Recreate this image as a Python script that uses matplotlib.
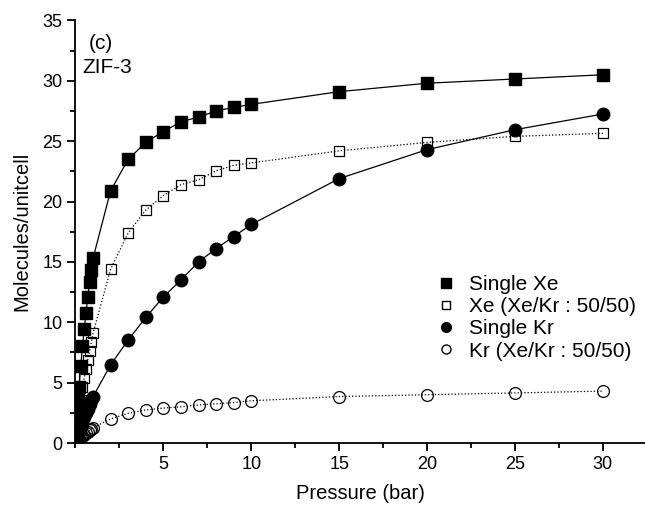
import matplotlib.pyplot as plt
from matplotlib.ticker import MultipleLocator
from matplotlib.lines import Line2D

plt.rcParams['font.family'] = ['Liberation Sans', 'DejaVu Sans']

# pressure points (bar) shared by all four isotherms
pressure = [0.05, 0.1, 0.15, 0.2, 0.3, 0.4, 0.5, 0.6, 0.7, 0.8, 0.9, 1.0,
            2, 3, 4, 5, 6, 7, 8, 9, 10, 15, 20, 25, 30]

single_xe = [1.3, 2.5, 3.6, 4.6, 6.4, 8.0, 9.45, 10.8, 12.1, 13.3, 14.3, 15.3,
             20.9, 23.5, 24.9, 25.8, 26.6, 27.0, 27.5, 27.8, 28.05, 29.1, 29.8, 30.15, 30.5]
mix_xe = [0.9, 1.6, 2.2, 2.8, 3.6, 4.6, 5.4, 6.1, 6.9, 7.6, 8.35, 9.1,
          14.4, 17.4, 19.3, 20.5, 21.4, 21.8, 22.55, 23.0, 23.2, 24.2, 24.9, 25.4, 25.65]
single_kr = [0.25, 0.5, 0.72, 0.95, 1.35, 1.75, 2.15, 2.5, 2.85, 3.2, 3.55, 3.85,
             6.47, 8.54, 10.4, 12.1, 13.5, 15.0, 16.1, 17.1, 18.1, 21.9, 24.3, 25.95, 27.25]
mix_kr = [0.08, 0.15, 0.23, 0.3, 0.45, 0.57, 0.7, 0.8, 0.95, 1.05, 1.15, 1.27,
          2.0, 2.46, 2.74, 2.9, 3.0, 3.15, 3.25, 3.35, 3.5, 3.85, 4.0, 4.15, 4.3]

labels = ['Single Xe', 'Xe (Xe/Kr : 50/50)', 'Single Kr', 'Kr (Xe/Kr : 50/50)']

fig = plt.figure(figsize=(6.45, 5.11), dpi=100)
ax = fig.add_axes([0.117, 0.133, 0.883, 0.827])

ax.plot(pressure, single_xe, '-', color='black', lw=0.9, marker='s', ms=8,
        mfc='black', mec='black', zorder=3)
ax.plot(pressure, mix_xe, ':', color='black', lw=0.9, marker='s', ms=7,
        mfc='none', mec='black', mew=0.9, zorder=3)
ax.plot(pressure, single_kr, '-', color='black', lw=0.9, marker='o', ms=9,
        mfc='black', mec='black', zorder=3)
ax.plot(pressure, mix_kr, ':', color='black', lw=0.9, marker='o', ms=8.5,
        mfc='none', mec='black', mew=0.9, zorder=3)

ax.set_xlim(0, 32.4)
ax.set_ylim(0, 35)
ax.xaxis.set_major_locator(MultipleLocator(5))
ax.xaxis.set_minor_locator(MultipleLocator(2.5))
ax.yaxis.set_major_locator(MultipleLocator(5))
ax.yaxis.set_minor_locator(MultipleLocator(2.5))
ax.set_xticks([5, 10, 15, 20, 25, 30])
ax.spines['top'].set_visible(False)
ax.spines['right'].set_visible(False)
for s in ('left', 'bottom'):
    ax.spines[s].set_linewidth(1.3)
ax.tick_params(which='major', direction='out', length=6, width=1.3, labelsize=13)
ax.tick_params(which='minor', direction='out', length=3.5, width=1.3)

ax.set_xlabel('Pressure (bar)', fontsize=14.5, labelpad=8)
ax.set_ylabel('Molecules/unitcell', fontsize=14.5, labelpad=8)

ax.text(0.024, 0.968, '(c)', transform=ax.transAxes, fontsize=15, va='top')
ax.text(0.012, 0.911, 'ZIF-3', transform=ax.transAxes, fontsize=15, va='top')

handles = [
    Line2D([], [], ls='none', marker='s', ms=6.5, mfc='black', mec='black'),
    Line2D([], [], ls='none', marker='s', ms=6, mfc='none', mec='black'),
    Line2D([], [], ls='none', marker='o', ms=7, mfc='black', mec='black'),
    Line2D([], [], ls='none', marker='o', ms=6.5, mfc='none', mec='black'),
]
ax.legend(handles, labels, loc='upper left', bbox_to_anchor=(0.614, 0.417),
          frameon=False, fontsize=15, handletextpad=0.5, labelspacing=0.15,
          handlelength=1.2, borderaxespad=0)

fig.savefig('out.png', dpi=100)
